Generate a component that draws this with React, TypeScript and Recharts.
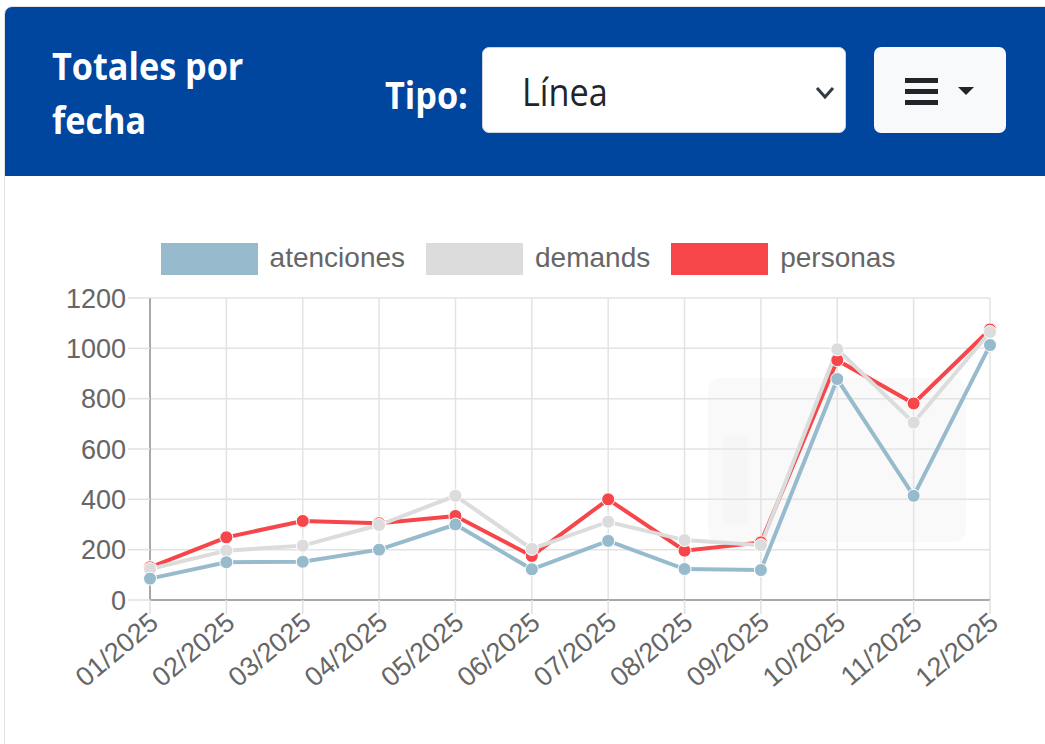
import { LineChart, Line, XAxis, YAxis, CartesianGrid, Legend } from "recharts";

const months = [
  "01/2025", "02/2025", "03/2025", "04/2025", "05/2025", "06/2025",
  "07/2025", "08/2025", "09/2025", "10/2025", "11/2025", "12/2025",
];
const atenciones = [85, 150, 152, 200, 300, 122, 235, 123, 119, 878, 414, 1013];
const demands = [123, 196, 216, 298, 414, 203, 311, 238, 218, 996, 705, 1065];
const personas = [130, 249, 314, 305, 334, 175, 400, 196, 229, 953, 781, 1075];
const yTicks = [0, 200, 400, 600, 800, 1000, 1200];

const seriesNames = ["atenciones", "demands", "personas"];
const seriesColors = ["#97bbcd", "#dcdcdc", "#f7464a"];

const data = months.map((m, i) => ({
  month: m,
  atenciones: atenciones[i],
  demands: demands[i],
  personas: personas[i],
}));

const chartFont = "'Liberation Sans', Arial, sans-serif";
const headerFont = "'Open Sans', sans-serif";

function MonthTick({ x, y, payload }: any) {
  return (
    <text
      x={x + 4}
      y={y}
      transform={`rotate(-40, ${x + 4}, ${y})`}
      textAnchor="end"
      dy="0.35em"
      fill="#666"
      fontSize={27}
      fontFamily={chartFont}
    >
      {payload.value}
    </text>
  );
}

function ChartLegend() {
  return (
    <div style={{ display: "flex", justifyContent: "center", height: 55, paddingLeft: 66, fontFamily: chartFont }}>
      {seriesNames.map((name, i) => (
        <div key={name} style={{ display: "flex", alignItems: "flex-start", marginRight: i < 2 ? 21 : 0 }}>
          <div style={{ width: 97, height: 32, background: seriesColors[i] }} />
          <span style={{ marginLeft: 12, fontSize: 28, lineHeight: "30px", color: "#666" }}>{name}</span>
        </div>
      ))}
    </div>
  );
}

const headerText = {
  position: "absolute" as const,
  fontFamily: headerFont,
  fontSize: 38,
  transform: "scaleX(0.9)",
  transformOrigin: "left top",
  whiteSpace: "nowrap" as const,
};

export default function App() {
  return (
    <div style={{ position: "absolute", left: 0, top: 0, width: 1045, height: 744, background: "#fff", overflow: "hidden" }}>
      {/* card */}
      <div style={{ position: "absolute", left: 4, top: 6, width: 1080, height: 800, border: "1px solid #dfe2e5", borderRadius: 8 }} />
      {/* header */}
      <div style={{ position: "absolute", left: 5, top: 7, width: 1070, height: 169, background: "#00469f", borderTopLeftRadius: 7 }}>
        <div style={{ ...headerText, left: 47, top: 31, color: "#fff", fontWeight: 700, lineHeight: "54px" }}>
          Totales por<br />fecha
        </div>
        <div style={{ ...headerText, left: 380, top: 60, color: "#fff", fontWeight: 700, lineHeight: "54px" }}>
          Tipo:
        </div>
        <div style={{ position: "absolute", left: 477, top: 40, width: 364, height: 86, background: "#fff", borderRadius: 7, border: "1px solid #ced4da", boxSizing: "border-box" }}>
          <span style={{ ...headerText, left: 39, top: 16, lineHeight: "54px", color: "#212529" }}>Línea</span>
          <svg style={{ position: "absolute", left: 331, top: 37 }} width={22} height={16}>
            <path d="M3 3 L11 12 L19 3" fill="none" stroke="#343a40" strokeWidth={3} />
          </svg>
        </div>
        <div style={{ position: "absolute", left: 869, top: 40, width: 132, height: 86, background: "#f8f9fa", borderRadius: 7 }}>
          <svg style={{ position: "absolute", left: 30, top: 29 }} width={80} height={30}>
            <rect x={1} y={2} width={33} height={5} fill="#212529" />
            <rect x={1} y={13} width={33} height={5} fill="#212529" />
            <rect x={1} y={24} width={33} height={5} fill="#212529" />
            <path d="M54 11 L70 11 L62 19 Z" fill="#212529" />
          </svg>
        </div>
      </div>
      {/* faint tooltip remnant */}
      <div style={{ position: "absolute", left: 708, top: 378, width: 258, height: 164, background: "rgba(0,0,0,0.022)", borderRadius: 12 }} />
      <div style={{ position: "absolute", left: 723, top: 435, width: 25, height: 90, background: "rgba(0,0,0,0.012)", borderRadius: 3 }} />
      <div style={{ position: "absolute", left: 0, top: 180 }}>
        <LineChart width={1045} height={564} data={data} margin={{ top: 63, right: 55, bottom: 44, left: 0 }}>
          <CartesianGrid stroke="#e3e3e3" strokeWidth={1.5} />
          <Legend verticalAlign="top" content={() => <ChartLegend />} />
          <XAxis
            dataKey="month"
            interval={0}
            height={100}
            tickSize={14}
            tickMargin={4}
            tickLine={{ stroke: "#e0e0e0", strokeWidth: 1.5 }}
            axisLine={{ stroke: "#a8a8a8", strokeWidth: 2 }}
            tick={<MonthTick />}
          />
          <YAxis
            width={150}
            domain={[0, 1200]}
            ticks={yTicks}
            interval={0}
            tickSize={22}
            tickMargin={2}
            tickLine={{ stroke: "#e0e0e0", strokeWidth: 1.5 }}
            axisLine={{ stroke: "#a8a8a8", strokeWidth: 2 }}
            tick={{ fill: "#666", fontSize: 27, fontFamily: chartFont }}
          />
          {[2, 1, 0].map((i) => (
            <Line
              key={seriesNames[i]}
              dataKey={seriesNames[i]}
              stroke={seriesColors[i]}
              strokeWidth={4}
              dot={{ r: 6.5, fill: seriesColors[i], stroke: "#fff", strokeWidth: 1 }}
              activeDot={false}
              isAnimationActive={false}
            />
          ))}
        </LineChart>
      </div>
    </div>
  );
}
